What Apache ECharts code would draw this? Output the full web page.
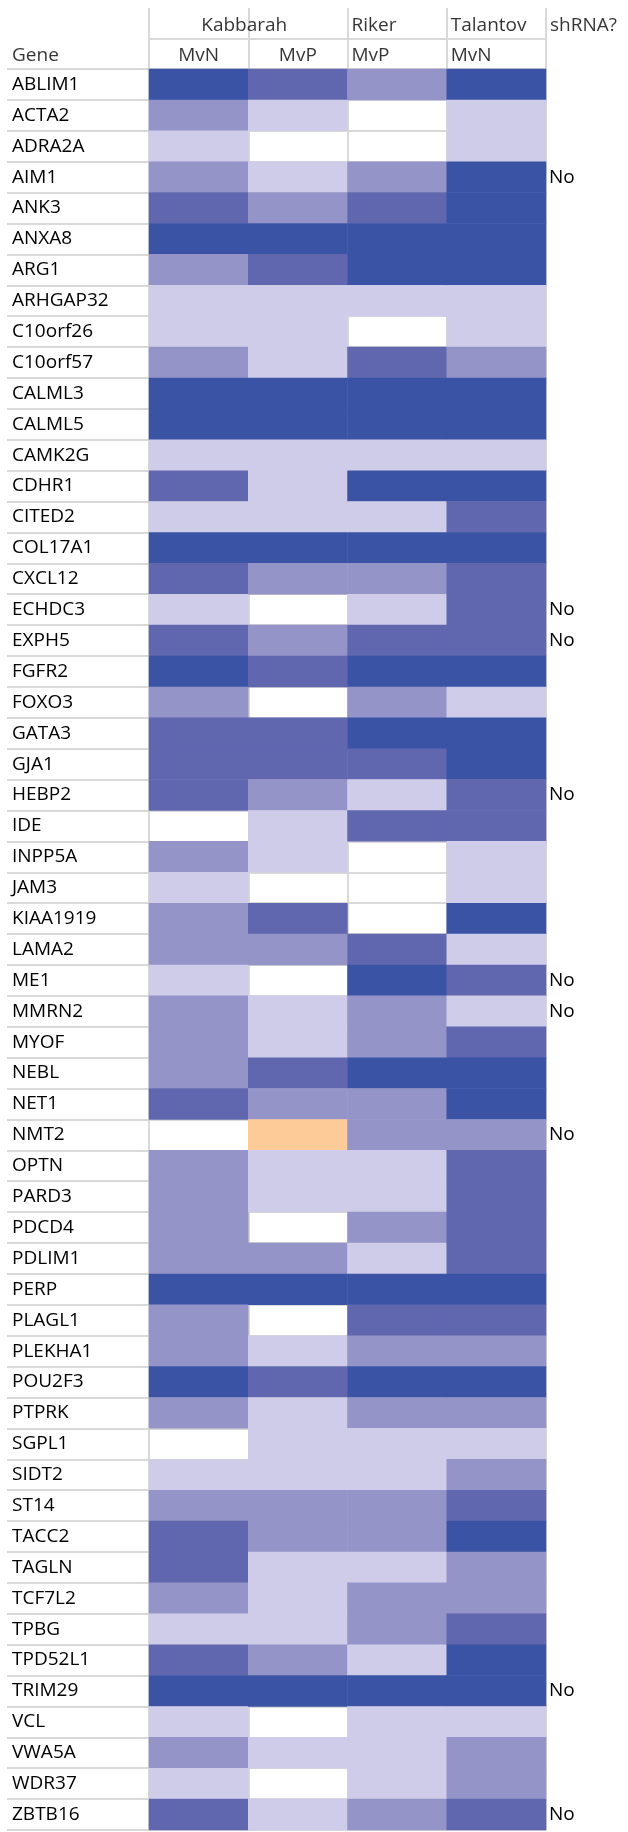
<!DOCTYPE html>
<html>
<head>
<meta charset="utf-8">
<script src="https://cdn.jsdelivr.net/npm/echarts@6/dist/echarts.min.js"></script>
<style>
html,body{margin:0;padding:0;background:#fff;}
#chart{width:628px;height:1832px;}
</style>
</head>
<body>
<div id="chart"></div>
<script>
// ---- data ----
const genes = ['ABLIM1','ACTA2','ADRA2A','AIM1','ANK3','ANXA8','ARG1','ARHGAP32','C10orf26','C10orf57',
 'CALML3','CALML5','CAMK2G','CDHR1','CITED2','COL17A1','CXCL12','ECHDC3','EXPH5','FGFR2',
 'FOXO3','GATA3','GJA1','HEBP2','IDE','INPP5A','JAM3','KIAA1919','LAMA2','ME1',
 'MMRN2','MYOF','NEBL','NET1','NMT2','OPTN','PARD3','PDCD4','PDLIM1','PERP',
 'PLAGL1','PLEKHA1','POU2F3','PTPRK','SGPL1','SIDT2','ST14','TACC2','TAGLN','TCF7L2',
 'TPBG','TPD52L1','TRIM29','VCL','VWA5A','WDR37','ZBTB16'];
const studyHeaders = ['Kabbarah','Riker','Talantov','shRNA?'];
const subHeaders = ['Gene','MvN','MvP','MvP','MvN'];
const columns = ['Kabbarah MvN','Kabbarah MvP','Riker MvP','Talantov MvN'];
// levels: 4 strongest ... 1 weakest, 0 no fill, -1 opposite
const kabbarahMvN = [4,2,1,2,3,4,2,1,1,2, 4,4,1,3,1,4,3,1,3,4, 2,3,3,3,0,2,1,2,2,1, 2,2,2,3,0,2,2,2,2,4, 2,2,4,2,0,1,2,3,3,2, 1,3,4,1,2,1,3];
const kabbarahMvP = [3,1,0,1,2,4,3,1,1,1, 4,4,1,1,1,4,2,0,2,3, 0,3,3,2,1,1,0,3,2,0, 1,1,3,2,-1,1,1,0,2,4, 0,1,3,1,1,1,2,2,1,1, 1,2,4,0,1,0,1];
const rikerMvP    = [2,0,0,2,3,4,4,1,0,3, 4,4,1,4,1,4,2,1,3,4, 2,4,3,1,3,0,0,0,3,4, 2,2,4,2,2,1,1,2,1,4, 3,2,4,2,1,1,2,2,1,2, 2,1,4,1,1,1,2];
const talantovMvN = [4,1,1,4,4,4,4,1,1,2, 4,4,1,4,3,4,3,3,3,4, 1,4,4,3,3,1,1,4,1,3, 1,3,4,4,2,3,3,3,3,4, 3,2,4,2,1,2,3,4,2,2, 3,4,4,1,2,2,3];
const shRNA = ['','','','No','','','','','','', '','','','','','','','No','No','', '','','','No','','','','','','No', 'No','','','','No','','','','','', '','','','','','','','','','', '','','No','','','','No'];
const levelColors = {'-1':'#FDCB98','1':'#CECCE8','2':'#9594C8','3':'#6067AF','4':'#3A53A4'};

// ---- build ----
const valueCols = [kabbarahMvN, kabbarahMvP, rikerMvP, talantovMvN];
const heatData = [];
valueCols.forEach((col, ci) => col.forEach((v, gi) => { if (v !== 0) heatData.push([ci, gi, v]); }));

const FONT = "'Open Sans', sans-serif";
const FS = 19;
const GRID = '#D9D9D9';
const lineStyle = {color: GRID, width: 2};

// header text items on header grid (x: 0..4 columns, y: 0..2 rows, row 1.5 = top row)
const headerItems = [
  {value:[1, 1.5], name: studyHeaders[0], label:{align:'center', offset:[-4,2]}},
  {value:[2, 1.5], name: studyHeaders[1], label:{align:'left', offset:[4,2]}},
  {value:[3, 1.5], name: studyHeaders[2], label:{align:'left', offset:[4,2]}},
  {value:[4, 1.5], name: studyHeaders[3], label:{align:'left', offset:[4,2]}},
  {value:[0, 0.5], name: subHeaders[0], label:{align:'left', offset:[-137,2]}},
  {value:[0.5, 0.5], name: subHeaders[1], label:{align:'center'}},
  {value:[1.5, 0.5], name: subHeaders[2], label:{align:'center'}},
  {value:[2, 0.5], name: subHeaders[3], label:{align:'left', offset:[4,2]}},
  {value:[3, 0.5], name: subHeaders[4], label:{align:'left', offset:[4,2]}}
];

const noAxis = {axisLine:{show:false}, axisTick:{show:false}, axisLabel:{show:false}};

const option = {
  animation: false,
  backgroundColor: '#fff',
  grid: [
    {left:149, top:69, width:397, height:1761},
    {left:7, top:69, width:142, height:1761},
    {left:149, top:8, width:397, height:61}
  ],
  xAxis: [
    Object.assign({gridIndex:0, type:'category', data:columns, splitLine:{show:true, interval:0, lineStyle}}, noAxis),
    Object.assign({gridIndex:1, type:'value', splitLine:{show:false}}, noAxis),
    Object.assign({gridIndex:2, type:'value', min:0, max:4, interval:1, splitLine:{show:true, lineStyle}}, noAxis)
  ],
  yAxis: [
    {gridIndex:0, type:'category', data:genes, inverse:true,
     axisLine:{show:false}, axisTick:{show:false},
     axisLabel:{interval:0, align:'left', margin:137, fontFamily:FONT, fontSize:FS, color:'#000', padding:[4,0,0,0]},
     splitLine:{show:true, interval:0, lineStyle}},
    {gridIndex:0, type:'category', data:genes, inverse:true, position:'right',
     axisLine:{show:false}, axisTick:{show:false},
     axisLabel:{interval:0, align:'left', margin:3, fontFamily:FONT, fontSize:FS, color:'#000', padding:[4,0,0,0],
       formatter:(v, i) => shRNA[i]},
     splitLine:{show:false}},
    Object.assign({gridIndex:1, type:'category', data:genes, inverse:true, splitLine:{show:true, interval:0, lineStyle}}, noAxis),
    Object.assign({gridIndex:2, type:'value', min:0, max:2, interval:1, splitLine:{show:true, showMaxLine:false, lineStyle}}, noAxis)
  ],
  visualMap: {
    type:'piecewise', show:false, seriesIndex:0, dimension:2,
    pieces: Object.keys(levelColors).map(k => ({value:Number(k), color:levelColors[k]}))
  },
  series: [
    {type:'heatmap', xAxisIndex:0, yAxisIndex:0, data:heatData, silent:true, emphasis:{disabled:true}},
    {type:'scatter', xAxisIndex:2, yAxisIndex:3, symbolSize:0, silent:true, data:headerItems,
     label:{show:true, position:'inside', formatter:'{b}', fontFamily:FONT, fontSize:FS, color:'#000', offset:[0,2]}}
  ]
};
const chart = echarts.init(document.getElementById('chart'), null, {renderer:'canvas'});
chart.setOption(option);
</script>
</body>
</html>
